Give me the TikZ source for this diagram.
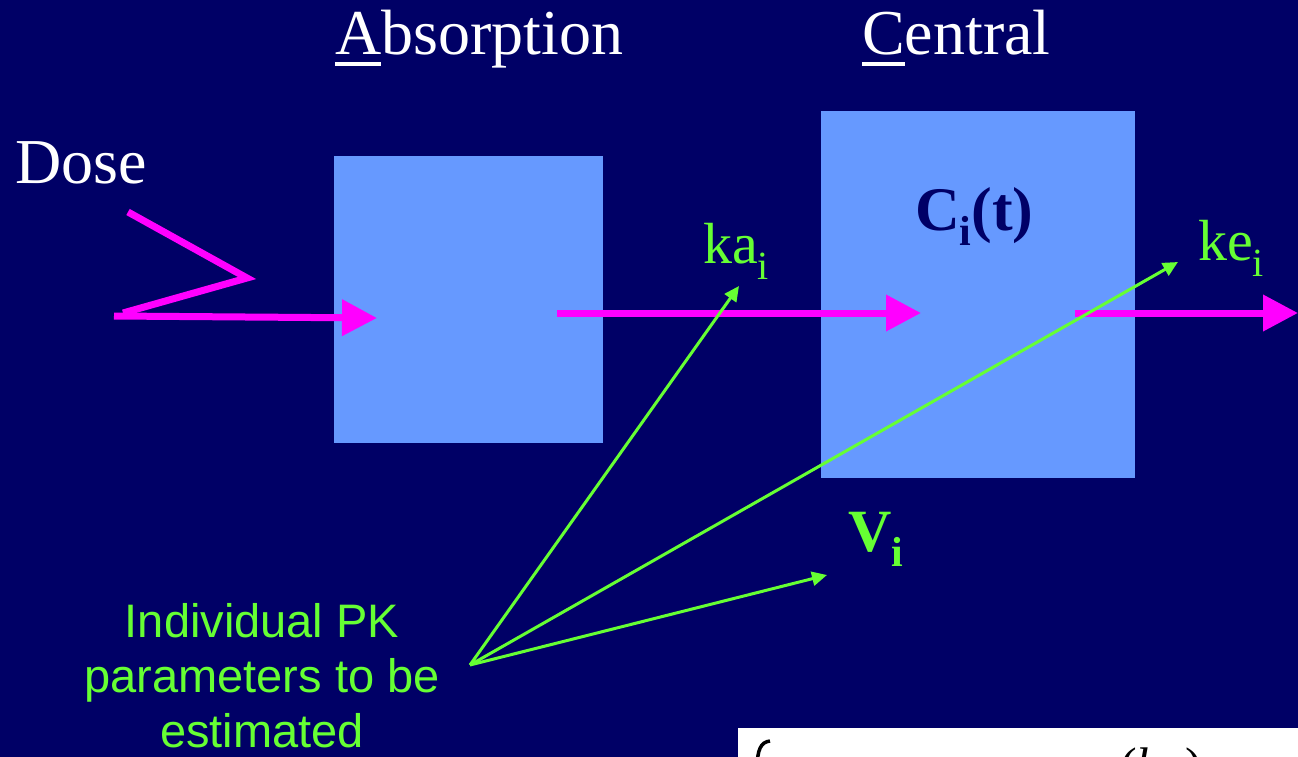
\documentclass[tikz,border=0pt]{standalone}
\usepackage{fontspec}
\setmainfont{Liberation Serif}
\newfontfamily\arialfont{Liberation Sans}
\usetikzlibrary{arrows.meta}
\definecolor{bgnavy}{HTML}{000066}
\definecolor{boxblue}{HTML}{6699FF}
\definecolor{pkgreen}{HTML}{66FF33}
\definecolor{pkmag}{HTML}{FF00FF}
\newsavebox\ulbox
\newcommand\firstul[1]{\sbox\ulbox{#1}\rlap{\rule[-11pt]{\wd\ulbox}{4pt}}\usebox\ulbox}
\newcommand\lowi[2]{\raisebox{-#1}{\fontsize{#2}{#2}\selectfont i}}
\begin{document}
\begin{tikzpicture}[x=1pt,y=-1pt,
  boxst/.style={fill=boxblue, inner sep=0pt, outer sep=0pt, anchor=north west},
  titlest/.style={text=white, font=\fontsize{64}{64}\selectfont, inner sep=0pt, anchor=base west},
  glab/.style={text=pkgreen, font=\fontsize{58}{58}\selectfont, inner sep=0pt, anchor=base west},
  paramst/.style={text=pkgreen, font=\arialfont\fontsize{47}{47}\selectfont, inner sep=0pt, anchor=base},
  mline/.style={draw=pkmag, line width=7pt},
  marrow/.style={mline, -{Triangle[length=35pt,width=35pt]}},
  garrow/.style={draw=pkgreen, line width=3pt, -{Triangle[length=15pt,width=14pt]}}]
\useasboundingbox (0,0) rectangle (1298,757);
\fill[bgnavy] (0,0) rectangle (1298,757);

% titles
\node[titlest] (abs) at (335,55) {\firstul{A}bsorption};
\node[titlest] (cen) at (862,55) {\firstul{C}entral};
\node[titlest] (dose) at (15,183) {Dose};

% compartments
\node[boxst, minimum width=269pt, minimum height=287pt] (absbox) at (334,156) {};
\node[boxst, minimum width=314pt, minimum height=367pt] (cenbox) at (821,111) {};
\node[text=bgnavy, font=\bfseries\fontsize{62}{62}\selectfont, inner sep=0pt, anchor=base west] (conc) at (915,230) {C\lowi{15pt}{42}(t)};

% magenta flow
\coordinate (z1) at (128,212);
\coordinate (z2) at (247,278);
\coordinate (z3) at (123,313);
\coordinate (d0) at (114,316);
\coordinate (d1) at (377,318);
\coordinate (a2s) at (557,313);
\coordinate (a2e) at (921,313);
\coordinate (a3s) at (1075,313);
\coordinate (a3e) at (1298,313);
\draw[mline] (z1) -- (z2) -- (z3);
\draw[marrow] (d0) -- (d1);
\draw[marrow] (a2s) -- (a2e);
\draw[marrow] (a3s) -- (a3e);

% labels
\node[glab] (ka) at (703,263) {ka\lowi{16pt}{40}};
\node[glab] (ke) at (1198,260) {ke\lowi{16pt}{40}};
\node[glab, font=\bfseries\fontsize{60}{60}\selectfont] (vol) at (848,551) {V\lowi{15pt}{42}};

\node[paramst] (p1) at (262,637) {Individual PK};
\node[paramst] (p2) at (262,692) {parameters to be};
\node[paramst] (p3) at (262,747) {estimated};

% green pointers
\coordinate (src) at (470,665);
\coordinate (tka) at (739,286);
\coordinate (tke) at (1178,262);
\coordinate (tv) at (827,575);
\draw[garrow] (src) -- (tka);
\draw[garrow] (src) -- (tke);
\draw[garrow] (src) -- (tv);

% cut-off formula box
\fill[white] (738,728) rectangle (1298,757);
\begin{scope}
\clip (738,728) rectangle (1298,757);
\draw[black, line width=3.5pt] (770,741) .. controls (761,742) and (757,749) .. (757,770);
\node[inner sep=0pt, anchor=base west, text=black, font=\fontsize{50}{50}\selectfont] (kterm) at (1120,782) {(\textit{k}\raisebox{-14pt}{\fontsize{34}{34}\selectfont\textit{a}}\,)};
\end{scope}
\end{tikzpicture}
\end{document}
